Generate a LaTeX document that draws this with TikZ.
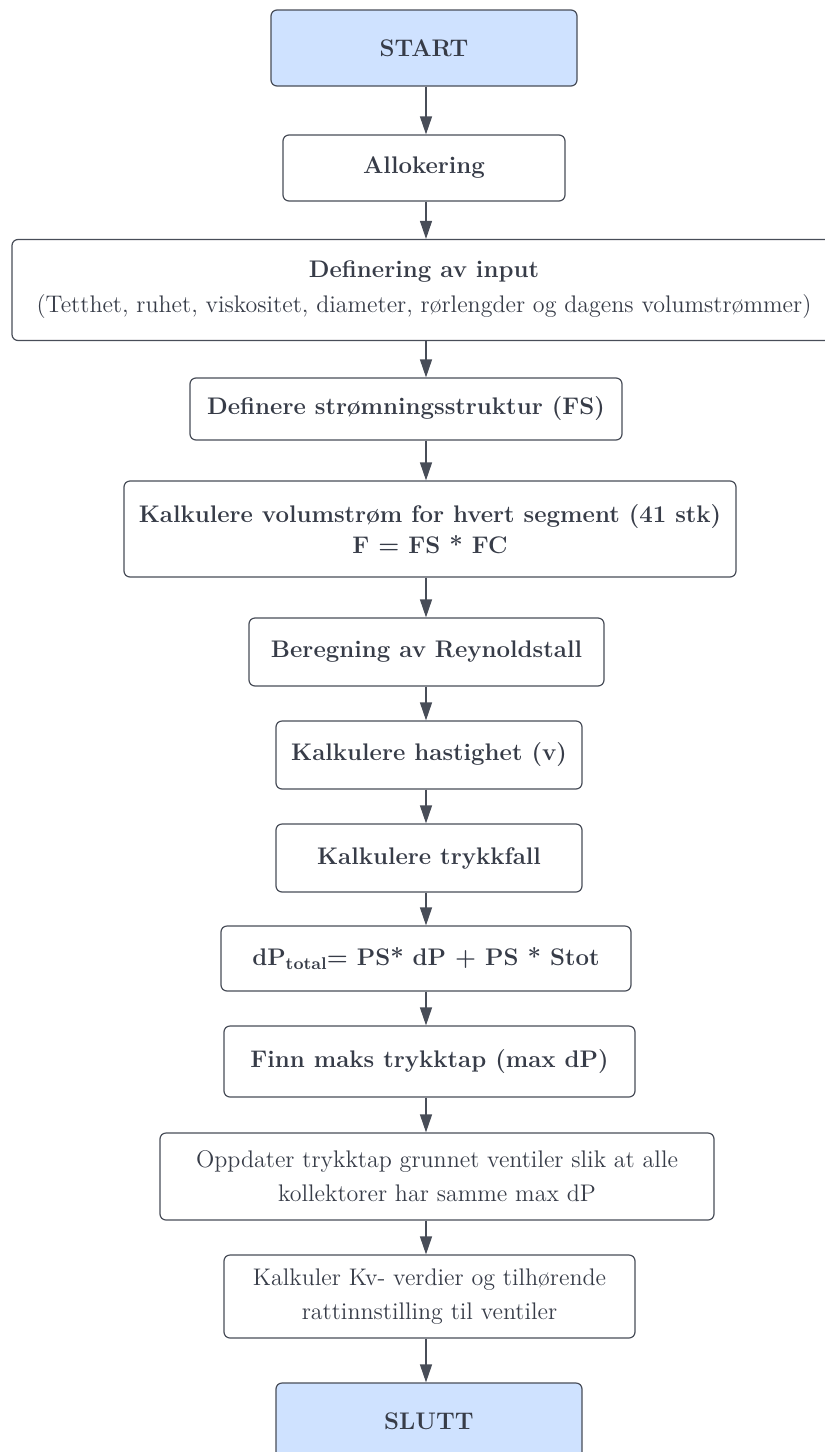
\documentclass[tikz,border=0pt]{standalone}
\definecolor{lineGray}{RGB}{72,77,88}
\definecolor{txtGray}{RGB}{55,60,72}
\definecolor{startBlue}{RGB}{207,226,255}
\usepackage{tikz}
\usetikzlibrary{arrows.meta,positioning,calc}
\newcommand{\lowtxt}[1]{\raisebox{-0.45ex}{\fontsize{8.5}{8.5}\selectfont #1}}
\newcommand{\bsym}[1]{{\boldmath$#1$}}

\begin{document}
\begin{tikzpicture}[
        x=0.5pt, y=-0.5pt,
        bx/.style={draw=lineGray, line width=0.6pt, rounded corners=3pt, inner sep=0pt,
                   text=txtGray, align=center, fill=white,
                   font=\fontsize{12}{17.5}\selectfont\bfseries},
        term/.style={bx, fill=startBlue},
        arr/.style={-{Triangle[length=9pt,width=6pt]}, draw=lineGray, fill=lineGray, line width=0.6pt}
      ]
        \useasboundingbox (0,0) rectangle (825,1452);
        % arrow column
        \coordinate (ax) at (426,0);
        % Start and setup
        \node[term, minimum width=153pt, minimum height=38pt] (start) at (424,48) {START};
        \node[bx, minimum width=141pt, minimum height=33pt] (alloc) at (424,168) {Allokering};
        \node[bx, minimum width=412pt, minimum height=50.5pt] (input) at (424,290)
          {Definering av input\\{\mdseries (Tetthet, ruhet, viskositet, diameter, rørlengder og dagens volumstrømmer)}};
        \node[bx, minimum width=216pt, minimum height=31pt] (fs) at (406,409) {Definere strømningsstruktur (FS)};
        \node[bx, minimum width=306pt, minimum height=48pt, font=\fontsize{12}{15.5}\selectfont\bfseries] (flow) at (430,529)
          {Kalkulere volumstrøm for hvert segment (41 stk)\\F \bsym{=} FS * FC};
        % Pressure drop
        \node[bx, minimum width=177.5pt, minimum height=34pt] (reyn) at (426.5,652) {Beregning av Reynoldstall};
        \node[bx, minimum width=153pt, minimum height=34pt] (vel) at (429,755) {Kalkulere hastighet (v)};
        \node[bx, minimum width=153pt, minimum height=34pt] (dpcalc) at (429,858) {Kalkulere trykkfall};
        \node[bx, minimum width=205pt, minimum height=32.5pt] (dptot) at (426,958.5)
          {{dP\lowtxt{total}\bsym{=} PS* dP \bsym{+} PS * Stot}};
        \node[bx, minimum width=205.5pt, minimum height=35.5pt] (maxdp) at (429.5,1061.5) {Finn maks trykktap (max dP)};
        % Valves
        \node[bx, minimum width=277pt, minimum height=43.5pt, font=\fontsize{12}{17}\selectfont] (valve) at (437,1176.5)
          {Oppdater trykktap grunnet ventiler slik at alle\\kollektorer har samme max dP};
        \node[bx, minimum width=205.5pt, minimum height=41.5pt, font=\fontsize{12}{17}\selectfont] (kv) at (429.5,1296.5)
          {Kalkuler Kv- verdier og tilhørende\\rattinnstilling til ventiler};
        \node[term, minimum width=153pt, minimum height=38pt] (slutt) at (429,1421) {SLUTT};
        % Arrows
        \foreach \a/\b in {start/alloc, alloc/input, input/fs, fs/flow, flow/reyn, reyn/vel,
                           vel/dpcalc, dpcalc/dptot, dptot/maxdp, maxdp/valve, valve/kv, kv/slutt}
          \draw[arr] (\a.south -| ax) -- (\b.north -| ax);
      \end{tikzpicture}
\end{document}
